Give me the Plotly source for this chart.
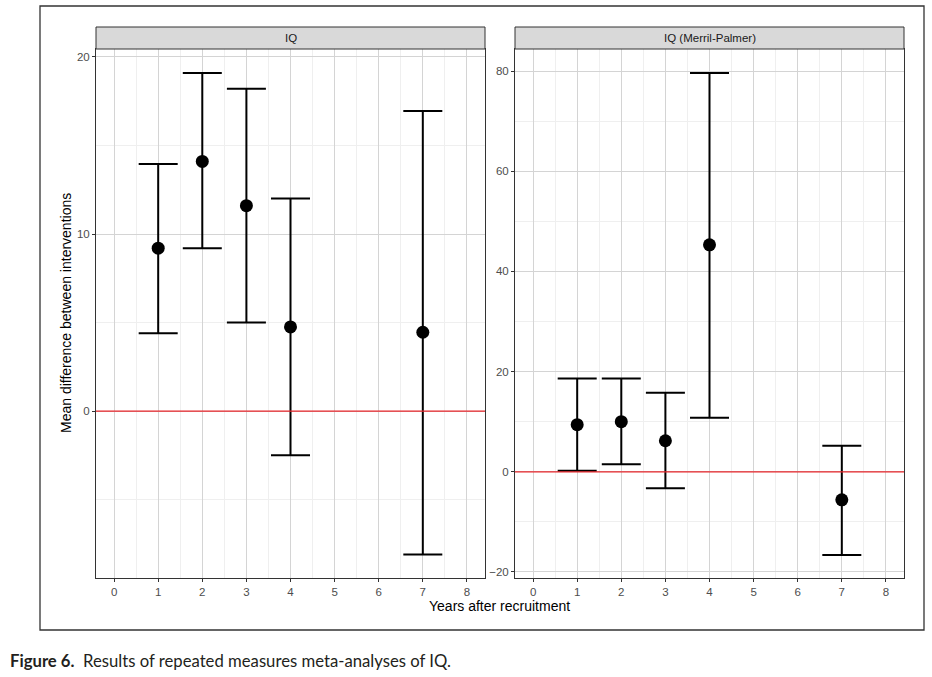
import plotly.graph_objects as go
import numpy as np

W, H = 932, 677

# ---- data ----
years = [1, 2, 3, 4, 7]

iq_mean = [9.2, 14.1, 11.6, 4.75, 4.45]
iq_upper = [13.95, 19.1, 18.2, 12.0, 16.95]
iq_lower = [4.4, 9.2, 5.0, -2.5, -8.1]

mp_mean = [9.4, 10.0, 6.2, 45.3, -5.6]
mp_upper = [18.6, 18.6, 15.8, 79.6, 5.2]
mp_lower = [0.2, 1.5, -3.3, 10.8, -16.6]

x_ticks = [0, 1, 2, 3, 4, 5, 6, 7, 8]
panel_titles = ["IQ", "IQ (Merril-Palmer)"]


def px_x(p):
    return p / W


def px_y(p):
    return 1 - p / H


def bar_trace(mean, upper, lower, xa, ya):
    mean = np.array(mean)
    return go.Scatter(
        x=years, y=mean, xaxis=xa, yaxis=ya, mode="markers",
        marker=dict(size=13, color="black"),
        error_y=dict(type="data", symmetric=False,
                     array=np.array(upper) - mean,
                     arrayminus=mean - np.array(lower),
                     color="black", thickness=2, width=19.5),
        showlegend=False, hoverinfo="skip")


fig = go.Figure()
fig.add_trace(bar_trace(iq_mean, iq_upper, iq_lower, "x", "y"))
fig.add_trace(bar_trace(mp_mean, mp_upper, mp_lower, "x2", "y2"))

# panel geometry (pixels in the reference)
panels = [(96, 485), (515, 904)]
top, bottom = 49, 578
strip_top = 27

axis_common = dict(
    showline=True, mirror=True, linecolor="#333333", linewidth=1,
    showgrid=True, gridcolor="#D4D4D4", gridwidth=1.3,
    ticks="outside", ticklen=3, tickcolor="#333333",
    tickfont=dict(family="Liberation Sans, Arial", size=11.5, color="#4D4D4D"),
    zeroline=False,
)

xcommon = dict(axis_common, range=[-0.41, 8.41], tickvals=x_ticks,
               minor=dict(dtick=0.5, tick0=0, showgrid=True,
                          gridcolor="#EFEFEF", gridwidth=0.8))

fig.update_layout(
    width=W, height=H,
    margin=dict(l=0, r=0, t=0, b=0),
    paper_bgcolor="white", plot_bgcolor="white",
    xaxis=dict(xcommon, domain=[px_x(panels[0][0]), px_x(panels[0][1])], anchor="y"),
    xaxis2=dict(xcommon, domain=[px_x(panels[1][0]), px_x(panels[1][1])], anchor="y2"),
    yaxis=dict(axis_common, domain=[px_y(bottom), px_y(top)], anchor="x",
               range=[-9.43, 20.45], tickvals=[0, 10, 20],
               minor=dict(dtick=5, tick0=0, showgrid=True,
                          gridcolor="#EFEFEF", gridwidth=0.8)),
    yaxis2=dict(axis_common, domain=[px_y(bottom), px_y(top)], anchor="x2",
                range=[-21.2, 84.4], tickvals=[-20, 0, 20, 40, 60, 80],
                minor=dict(dtick=10, tick0=0, showgrid=True,
                           gridcolor="#EFEFEF", gridwidth=0.8)),
)

# red reference lines at zero
for xr, yr in [("x domain", "y"), ("x2 domain", "y2")]:
    fig.add_shape(type="line", xref=xr, yref=yr, x0=0, x1=1, y0=0, y1=0,
                  line=dict(color="#E8262B", width=1.2))

# facet strips
for (x0, x1), title in zip(panels, panel_titles):
    fig.add_shape(type="rect", xref="paper", yref="paper",
                  x0=px_x(x0), x1=px_x(x1), y0=px_y(top), y1=px_y(strip_top),
                  fillcolor="#D9D9D9", line=dict(color="#333333", width=1))
    fig.add_annotation(text=title, xref="paper", yref="paper",
                       x=px_x((x0 + x1) / 2), y=px_y((top + strip_top) / 2),
                       xanchor="center", yanchor="middle", showarrow=False,
                       font=dict(family="Liberation Sans, Arial", size=11.5, color="#1A1A1A"))

# outer frame
fig.add_shape(type="rect", xref="paper", yref="paper",
              x0=px_x(40), x1=px_x(924), y0=px_y(630), y1=px_y(6),
              line=dict(color="#333333", width=1.3))

# axis titles
fig.add_annotation(text="Years after recruitment", xref="paper", yref="paper",
                   x=px_x(500), y=px_y(606), xanchor="center", yanchor="middle",
                   showarrow=False,
                   font=dict(family="Liberation Sans, Arial", size=14, color="black"))
fig.add_annotation(text="Mean difference between interventions", xref="paper", yref="paper",
                   x=px_x(66), y=px_y(313), xanchor="center", yanchor="middle",
                   showarrow=False, textangle=-90,
                   font=dict(family="Liberation Sans, Arial", size=14, color="black"))

# caption
fig.add_annotation(text="<b>Figure 6.</b>&nbsp;&nbsp;Results of repeated measures meta-analyses of IQ.",
                   xref="paper", yref="paper", x=px_x(8), y=px_y(661),
                   xanchor="left", yanchor="middle", showarrow=False,
                   font=dict(family="Lato, Open Sans", size=16.7, color="#231F20"))

# drop the default 8px body margin so the figure sits at the page corner
fig.write_html("out.html", config={"displayModeBar": False},
               post_script="document.body.style.margin='0';")
